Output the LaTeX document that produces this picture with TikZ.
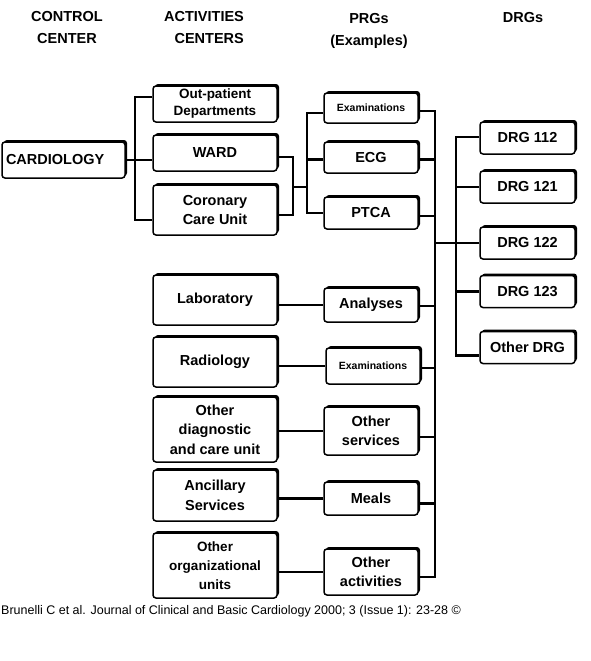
\documentclass[tikz,border=0pt]{standalone}
\usepackage{fontspec}
\setmainfont{Liberation Sans}
\usetikzlibrary{shadows}

\begin{document}
\begin{tikzpicture}[x=1pt, y=-1pt,
    box/.style={draw, line width=1.5pt, rounded corners=3pt, fill=white, align=center, inner sep=1pt,
      font=\bfseries\fontsize{14.5}{19.5}\selectfont,
      drop shadow={shadow xshift=2pt, shadow yshift=2pt, fill=black, opacity=1}},
    act/.style={box, minimum width=124pt},
    prg/.style={box, minimum width=94pt},
    drg/.style={box, minimum width=95pt, minimum height=32pt},
    link/.style={line width=2.6pt},
    head/.style={font=\bfseries\fontsize{14.5}{22}\selectfont, align=center}]
    \useasboundingbox (0,0) rectangle (590,661);

    % Column headings
    \node[head] (hcc) at (67,28) {CONTROL\\CENTER};
    \node[head, align=right] (hac) at (204,28) {ACTIVITIES\\CENTERS};
    \node[head] (hprg) at (369,31) {PRGs\\(Examples)};
    \node[head] (hdrg) at (523,18) {DRGs};

    % Control center
    \node[box, minimum width=123pt, minimum height=36pt, text width=115pt, align=left] (card) at (63.5,160) {CARDIOLOGY};

    % Activities centers
    \node[act, minimum height=36pt, font=\bfseries\fontsize{13.5}{17}\selectfont] (opd) at (215,104) {Out-patient\\Departments};
    \node[act, minimum height=36pt] (ward) at (215,153) {WARD};
    \node[act, minimum height=50pt] (ccu) at (215,210) {Coronary\\Care Unit};
    \node[act, minimum height=50pt] (lab) at (215,300) {Laboratory};
    \node[act, minimum height=50pt] (rad) at (215,362) {Radiology};
    \node[act, minimum height=65pt] (odc) at (215,429.5) {Other\\diagnostic\\and care unit};
    \node[act, minimum height=51pt] (anc) at (215,495.5) {Ancillary\\Services};
    \node[act, minimum height=65pt, font=\bfseries\fontsize{13.5}{19}\selectfont] (oou) at (215,565.5) {Other\\organizational\\units};

    % PRGs
    \node[prg, minimum height=30pt, font=\bfseries\fontsize{10.5}{13}\selectfont] (exa) at (371,108) {Examinations};
    \node[prg, minimum height=31pt] (ecg) at (371,157.5) {ECG};
    \node[prg, minimum height=32pt] (ptca) at (371,213) {PTCA};
    \node[prg, minimum height=34pt] (ana) at (371,305) {Analyses};
    \node[prg, minimum height=36pt, font=\bfseries\fontsize{10.5}{13}\selectfont] (exb) at (373,366) {Examinations};
    \node[prg, minimum height=48pt] (oth) at (371,431) {Other\\services};
    \node[prg, minimum height=33pt] (meal) at (371,498.5) {Meals};
    \node[prg, minimum height=46pt] (oact) at (371,572) {Other\\activities};

    % DRGs
    \node[drg] (d112) at (527.5,138) {DRG 112};
    \node[drg] (d121) at (527.5,187) {DRG 121};
    \node[drg] (d122) at (527.5,243) {DRG 122};
    \node[drg] (d123) at (527.5,291.5) {DRG 123};
    \node[drg] (dother) at (527.5,347.5) {Other DRG};

    % Junction points
    \coordinate (cj) at (135,160);
    \coordinate (wj) at (293,187);
    \coordinate (pj) at (307,187);
    \coordinate (bb) at (435,577);
    \coordinate (dj) at (456,243);

    % Control center to activities
    \draw[link] (card.east) -- (cj) -- (ward.west |- cj);
    \draw[link] ([yshift=7pt]opd.west) -| (cj) |- ([yshift=-10pt]ccu.west);

    % Cardiology activities to PRGs
    \draw[link] ([yshift=-4pt]ward.east) -| (wj) |- ([yshift=-5pt]ccu.east);
    \draw[link] (wj) -- (pj);
    \draw[link] ([yshift=-5pt]exa.west) -| (pj) |- (ptca.west);
    \draw[link] ([yshift=-2pt]ecg.west) -- ([yshift=-2pt]ecg.west -| pj);

    % Other activities to PRGs
    \foreach \a/\p in {lab/ana,rad/exb,odc/oth,anc/meal,oou/oact}
        \draw[link] (\p.west) -- (\p.west -| \a.east);

    % PRGs to the bus
    \draw[link] ([yshift=-3pt]exa.east) -| (bb) -- ([yshift=-5pt]oact.east);
    \foreach \n/\d in {ecg/2,ptca/3,ana/1,exb/2,oth/6,meal/5}
        \draw[link] ([yshift=-\d pt]\n.east) -- ([yshift=-\d pt]\n.east -| bb);

    % Bus to DRGs
    \draw[link] (dj -| bb) -- (dj);
    \draw[link] ([yshift=1pt]d112.west) -| (dj) |- ([yshift=-8pt]dother.west);
    \foreach \n in {d121,d122,d123}
        \draw[link] (\n.west) -- (\n.west -| dj);

    % Source line
    \node[anchor=west, inner sep=0, font=\fontsize{12.5}{14}\selectfont] (src) at (1,611) {Brunelli C et al. Journal of Clinical and Basic Cardiology 2000; 3 (Issue 1): 23-28 ©};
\end{tikzpicture}
\end{document}
